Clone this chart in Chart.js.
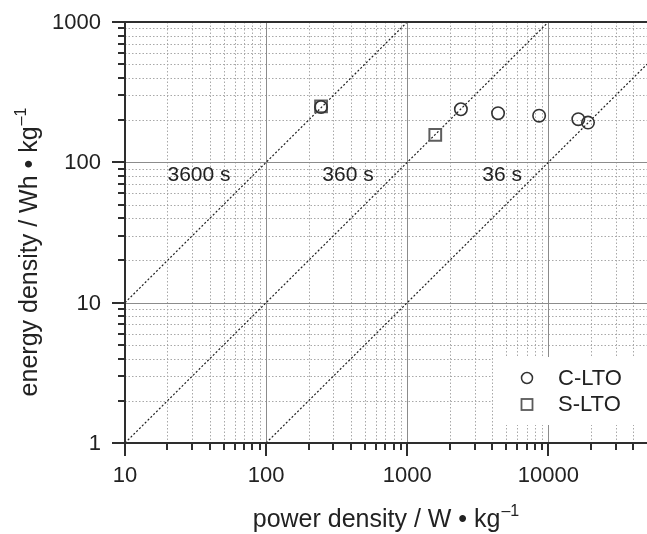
<!DOCTYPE html>
<html>
<head>
<meta charset="utf-8">
<script src="https://cdn.jsdelivr.net/npm/chart.js@4.4.1/dist/chart.umd.min.js"></script>
<style>
    body { margin: 0; background: #fff; }
    #wrap { width: 647px; height: 534px; position: relative; }
</style>
</head>
<body>
<div id="wrap"><canvas id="ragone"></canvas></div>
<script>
const cLtoPower = [245, 2400, 4400, 8600, 16300, 19100];
const cLtoEnergy = [248, 239, 224, 215, 203, 192];
const sLtoPower = [245, 1580];
const sLtoEnergy = [250, 157];

// constant discharge time lines, end points
const line3600Power = [10, 1000];
const line3600Energy = [10, 1000];
const line360Power = [10, 10000];
const line360Energy = [1, 1000];
const line36Power = [100, 50000];
const line36Energy = [1, 500];

const timeLabels = ['3600 s', '360 s', '36 s'];
const timeLabelX = [20, 250, 3400];
const timeLabelY = 74;

const xTickLabels = [10, 100, 1000, 10000];
const yTickLabels = [1, 10, 100, 1000];
const xMin = 10, xMax = 50000;
const yMin = 1, yMax = 1000;

const FONT = '"Liberation Sans", Arial, sans-serif';
const AXIS = '#2e2e2e';

const toPoints = (xs, ys) => xs.map((x, i) => ({ x: x, y: ys[i] }));

function minorValues(min, max) {
    const out = [];
    for (let d = min; d < max; d *= 10) {
        for (let m = 1; m <= 9; m++) {
            const v = m * d;
            if (v > max) break;
            out.push({ v: v, major: m === 1 });
        }
    }
    out.push({ v: max, major: Math.log10(max) % 1 === 0 });
    return out;
}

const framePlugin = {
    id: 'frame',
    beforeDatasetsDraw(chart) {
        const { ctx, chartArea: a, scales: { x, y } } = chart;
        ctx.save();
        // minor grid
        ctx.strokeStyle = '#a8a8a8';
        ctx.lineWidth = 1;
        ctx.setLineDash([1.5, 2]);
        minorValues(xMin, xMax).forEach(t => {
            if (t.major || t.v === xMin || t.v === xMax) return;
            const px = Math.round(x.getPixelForValue(t.v)) + 0.5;
            ctx.beginPath(); ctx.moveTo(px, a.top); ctx.lineTo(px, a.bottom); ctx.stroke();
        });
        minorValues(yMin, yMax).forEach(t => {
            if (t.major || t.v === yMin || t.v === yMax) return;
            const py = Math.round(y.getPixelForValue(t.v)) + 0.5;
            ctx.beginPath(); ctx.moveTo(a.left, py); ctx.lineTo(a.right, py); ctx.stroke();
        });
        // major grid
        ctx.setLineDash([]);
        ctx.strokeStyle = '#8c8c8c';
        xTickLabels.slice(1).forEach(v => {
            const px = Math.round(x.getPixelForValue(v)) + 0.5;
            ctx.beginPath(); ctx.moveTo(px, a.top); ctx.lineTo(px, a.bottom); ctx.stroke();
        });
        yTickLabels.slice(1, -1).forEach(v => {
            const py = Math.round(y.getPixelForValue(v)) + 0.5;
            ctx.beginPath(); ctx.moveTo(a.left, py); ctx.lineTo(a.right, py); ctx.stroke();
        });
        // labels of the time lines
        ctx.fillStyle = '#222';
        ctx.font = '21px ' + FONT;
        ctx.textAlign = 'left';
        ctx.textBaseline = 'alphabetic';
        timeLabels.forEach((txt, i) => {
            ctx.fillText(txt, x.getPixelForValue(timeLabelX[i]), y.getPixelForValue(timeLabelY));
        });
        ctx.restore();
    },
    afterDraw(chart) {
        const { ctx, chartArea: a, scales: { x, y } } = chart;
        ctx.save();

        // legend box
        ctx.fillStyle = '#fff';
        ctx.fillRect(493, 357, a.right - 493, 68);
        ctx.strokeStyle = '#333';
        ctx.lineWidth = 1.5;
        ctx.beginPath(); ctx.arc(527, 378, 5.5, 0, Math.PI * 2); ctx.stroke();
        ctx.strokeStyle = '#5a5a5a';
        ctx.lineWidth = 1.8;
        ctx.strokeRect(521.5, 399, 11, 11);
        ctx.fillStyle = '#222';
        ctx.font = '22px ' + FONT;
        ctx.textAlign = 'left';
        ctx.textBaseline = 'middle';
        ctx.fillText('C-LTO', 558, 379);
        ctx.fillText('S-LTO', 558, 405);

        // axes lines
        ctx.strokeStyle = AXIS;
        ctx.lineWidth = 2;
        ctx.beginPath();
        ctx.moveTo(a.left, a.top); ctx.lineTo(a.right, a.top);
        ctx.moveTo(a.left, a.top - 1); ctx.lineTo(a.left, a.bottom + 13);
        ctx.moveTo(a.left - 13, a.bottom); ctx.lineTo(a.right, a.bottom);
        ctx.stroke();

        // ticks
        minorValues(xMin, xMax).forEach(t => {
            if (t.v === xMax) return;
            const px = Math.round(x.getPixelForValue(t.v));
            ctx.beginPath(); ctx.moveTo(px, a.bottom); ctx.lineTo(px, a.bottom + (t.major ? 13 : 7)); ctx.stroke();
        });
        minorValues(yMin, yMax).forEach(t => {
            const py = Math.round(y.getPixelForValue(t.v));
            ctx.beginPath(); ctx.moveTo(a.left, py); ctx.lineTo(a.left - (t.major ? 13 : 7), py); ctx.stroke();
        });

        // tick labels
        ctx.fillStyle = '#222';
        ctx.font = '22px ' + FONT;
        ctx.textAlign = 'center';
        ctx.textBaseline = 'middle';
        xTickLabels.forEach(v => ctx.fillText(String(v), x.getPixelForValue(v), a.bottom + 33));
        ctx.textAlign = 'right';
        yTickLabels.forEach(v => ctx.fillText(String(v), a.left - 24, y.getPixelForValue(v) + 1));

        // axis titles with superscript
        const drawTitle = (main, sup, cx, baseY) => {
            ctx.font = '25px ' + FONT;
            const w1 = ctx.measureText(main).width;
            ctx.font = '16px ' + FONT;
            const w2 = ctx.measureText(sup).width;
            const start = cx - (w1 + w2 + 1) / 2;
            ctx.textAlign = 'left';
            ctx.textBaseline = 'alphabetic';
            ctx.font = '25px ' + FONT;
            ctx.fillText(main, start, baseY);
            ctx.font = '16px ' + FONT;
            ctx.fillText(sup, start + w1 + 1, baseY - 11);
        };
        drawTitle('power density / W \u2022 kg', '\u20131', 386, 527);
        ctx.save();
        ctx.translate(37, 252);
        ctx.rotate(-Math.PI / 2);
        drawTitle('energy density / Wh \u2022 kg', '\u20131', 0, 0);
        ctx.restore();

        ctx.restore();
    }
};

const timeLine = (xs, ys) => ({
    data: toPoints(xs, ys),
    showLine: true,
    borderColor: '#1e1e1e',
    borderWidth: 1.2,
    borderDash: [2, 2],
    pointRadius: 0,
    fill: false
});

new Chart(document.getElementById('ragone'), {
    type: 'scatter',
    data: {
        datasets: [
            {
                label: 'C-LTO',
                data: toPoints(cLtoPower, cLtoEnergy),
                pointStyle: 'circle',
                pointRadius: 6.2,
                borderColor: '#333',
                borderWidth: 1.6,
                backgroundColor: 'rgba(0,0,0,0)'
            },
            {
                label: 'S-LTO',
                data: toPoints(sLtoPower, sLtoEnergy),
                pointStyle: 'rect',
                pointRadius: 8.3,
                borderColor: '#5e5e5e',
                borderWidth: 2,
                backgroundColor: 'rgba(0,0,0,0)'
            },
            timeLine(line3600Power, line3600Energy),
            timeLine(line360Power, line360Energy),
            timeLine(line36Power, line36Energy)
        ]
    },
    options: {
        responsive: true,
        maintainAspectRatio: false,
        animation: false,
        layout: { autoPadding: false, padding: { top: 22, right: 0, left: 0, bottom: 0 } },
        plugins: {
            legend: { display: false },
            tooltip: { enabled: false }
        },
        scales: {
            x: {
                type: 'logarithmic',
                min: xMin,
                max: xMax,
                ticks: { display: false },
                grid: { display: false },
                border: { display: false },
                afterFit: scale => { scale.height = 91; }
            },
            y: {
                type: 'logarithmic',
                min: yMin,
                max: yMax,
                ticks: { display: false },
                grid: { display: false },
                border: { display: false },
                afterFit: scale => { scale.width = 125; }
            }
        }
    },
    plugins: [framePlugin]
});
</script>
</body>
</html>
